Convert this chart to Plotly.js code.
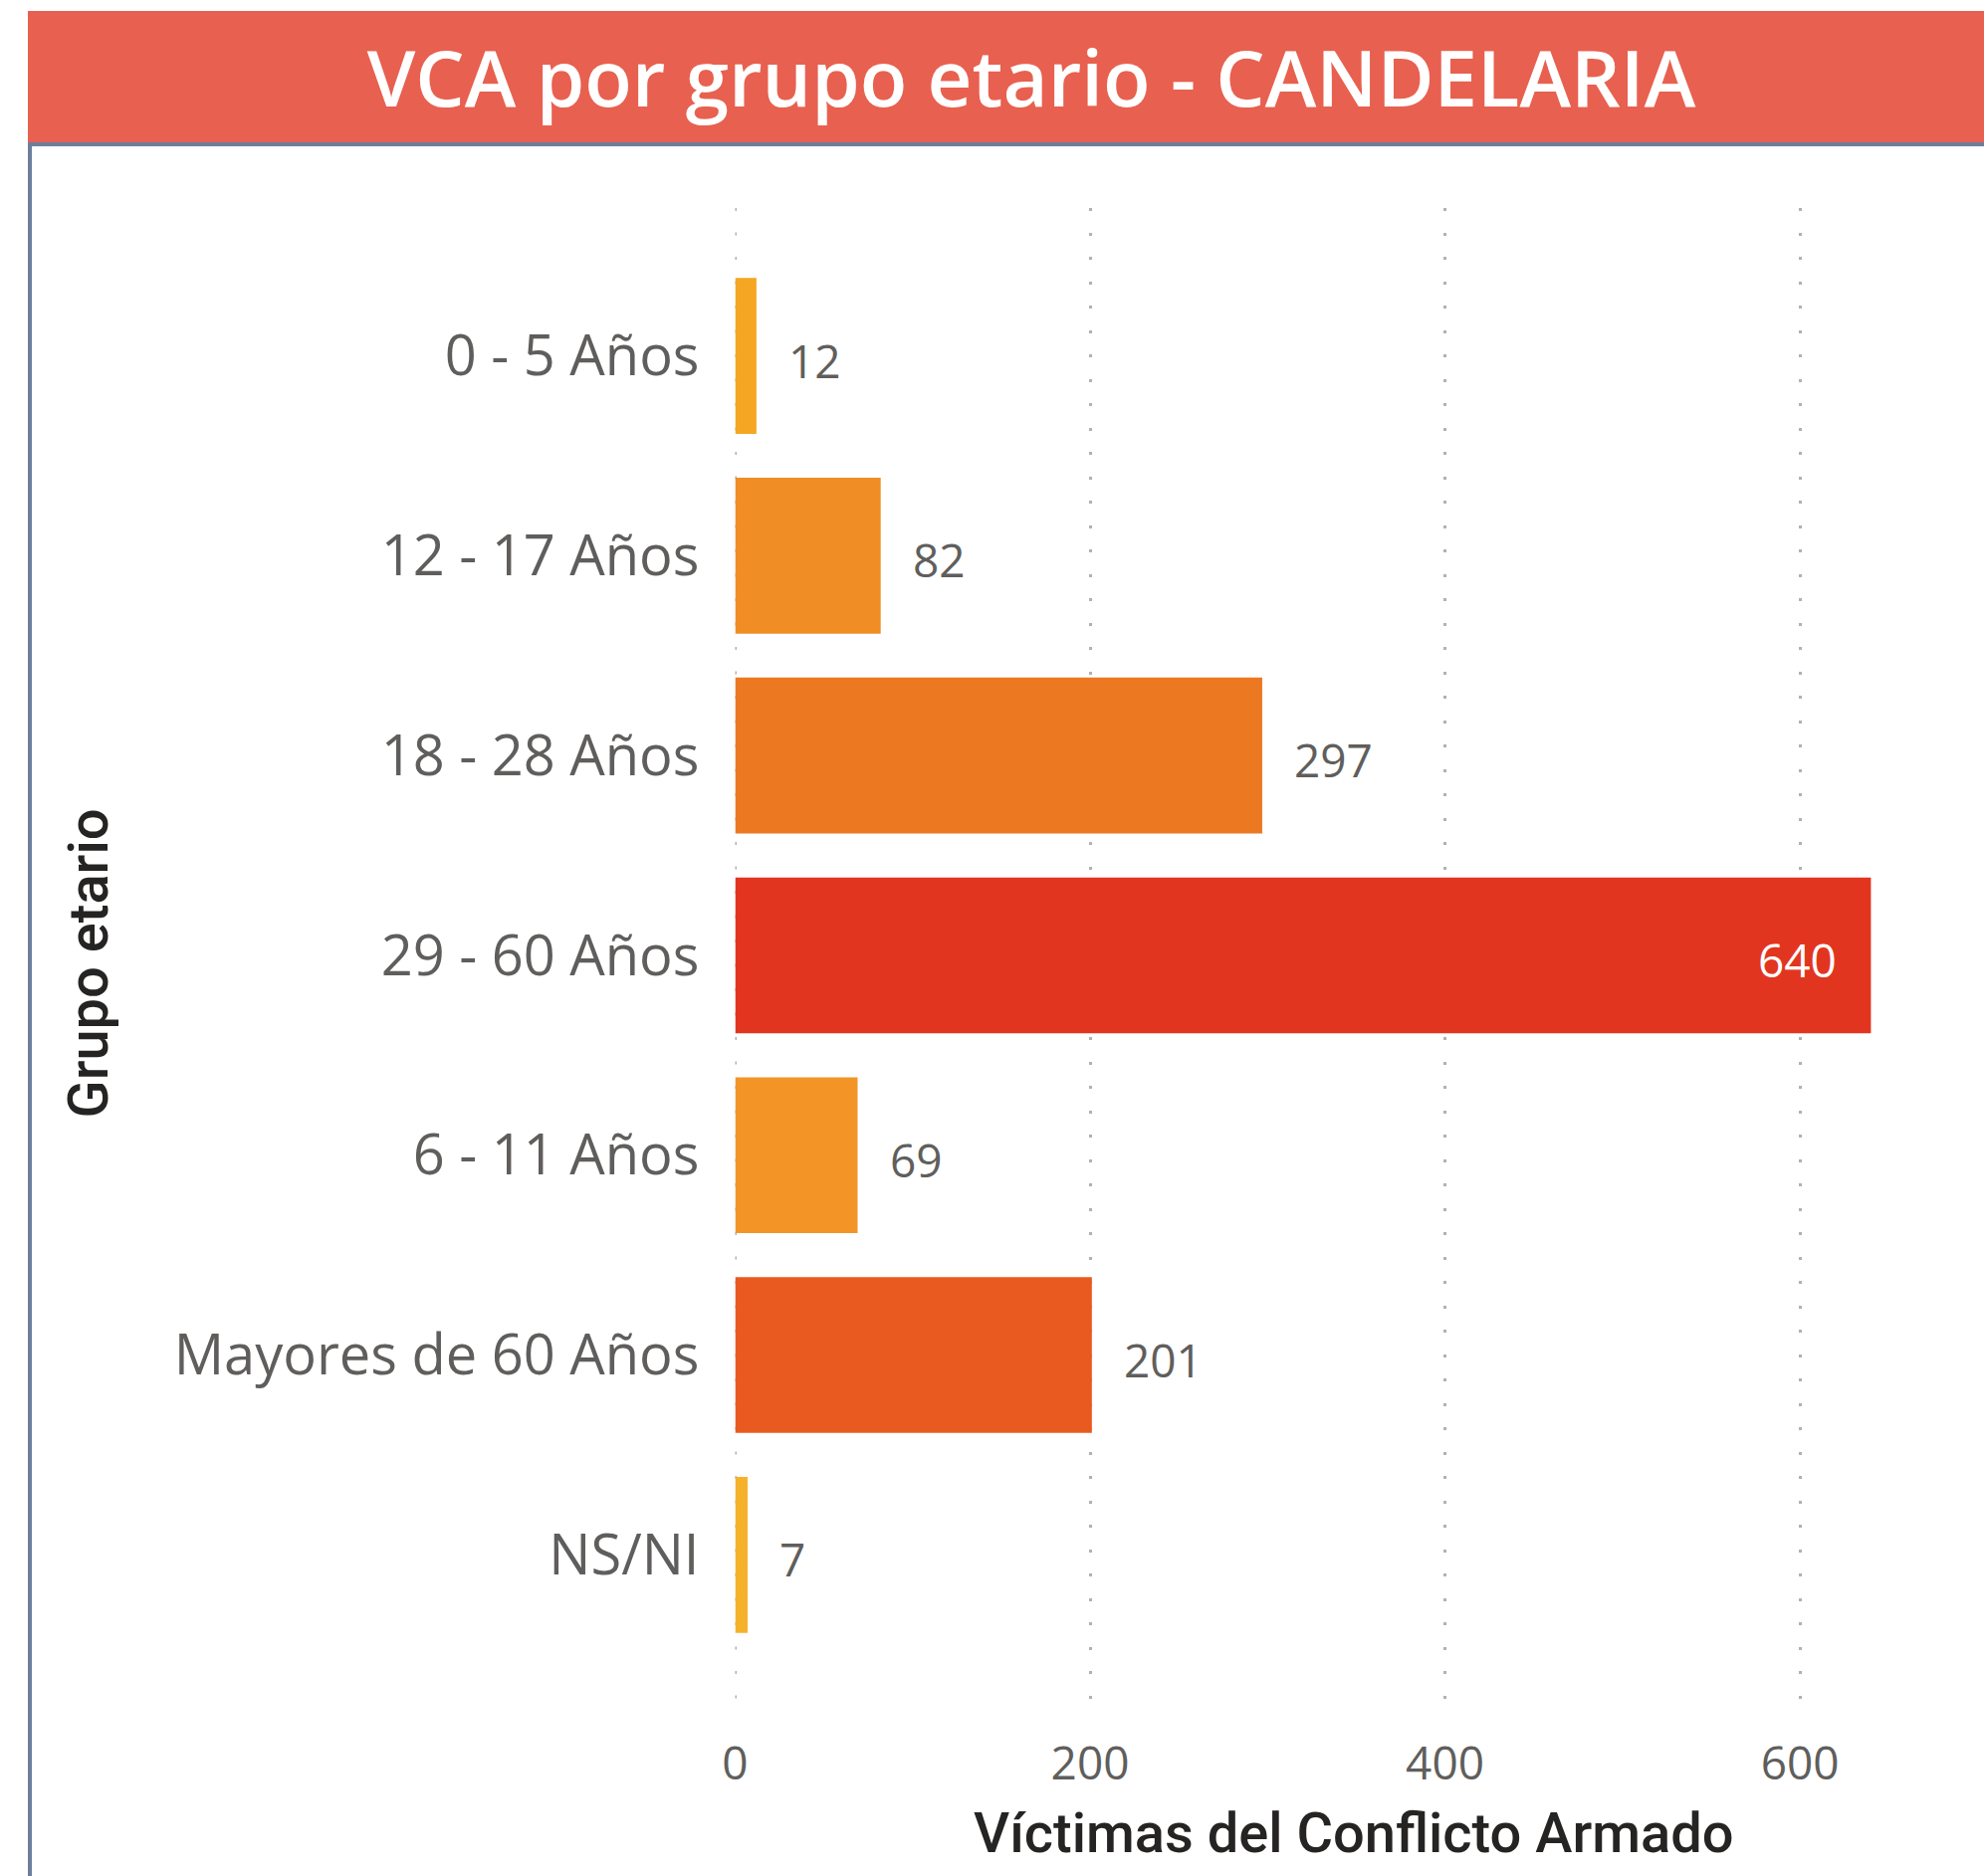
<!DOCTYPE html>
<html>
<head>
<meta charset="utf-8">
<script src="https://cdn.plot.ly/plotly-3.0.1.min.js"></script>
<style>
  html, body { margin: 0; padding: 0; background: #ffffff; }
  #chart { width: 1993px; height: 1885px; }
</style>
</head>
<body>
<div id="chart"></div>
<script>
// ---- data ----
const categories = ["0 - 5 Años", "12 - 17 Años", "18 - 28 Años", "29 - 60 Años", "6 - 11 Años", "Mayores de 60 Años", "NS/NI"];
const victims = [12, 82, 297, 640, 69, 201, 7];
const barColors = ["#F5A623", "#F08D24", "#ED7822", "#E23520", "#F29526", "#E95A20", "#F6B12A"];
const xTicks = [0, 200, 400, 600];
const titleText = "VCA por grupo etario - CANDELARIA";
const xTitle = "Víctimas del Conflicto Armado";
const yTitle = "Grupo etario";

// ---- geometry helpers (pixels -> paper fractions) ----
const W = 1993, H = 1885;
const px = v => v / W;
const py = v => 1 - v / H;

const labelFont = "'Segoe UI', 'Open Sans', 'Noto Sans', sans-serif";
const titleFontFam = "'Segoe UI Semibold', 'Open Sans', 'Noto Sans', sans-serif";
const axisTitleFont = "'DIN', Roboto, 'Noto Sans', sans-serif";
const gridColor = "#B3B1AF";
const gridDash = "3px,21.5px";

const trace = {
  type: "bar",
  orientation: "h",
  y: categories,
  x: victims,
  width: 0.78,
  marker: { color: barColors, line: { width: 0 } },
  hoverinfo: "skip"
};

// data labels as annotations anchored on the data values
const annotations = victims.map((v, i) => {
  const inside = v > 500;
  return {
    x: v, y: categories[i], xref: "x", yref: "y",
    text: String(v),
    showarrow: false,
    xanchor: inside ? "right" : "left",
    yanchor: "middle",
    xshift: inside ? -32 : 30,
    yshift: -4,
    font: { family: labelFont, size: 46, color: inside ? "#ffffff" : "#605E5C" }
  };
});

const layout = {
  width: W, height: H,
  margin: { l: 0, r: 0, t: 0, b: 0 },
  paper_bgcolor: "#ffffff",
  plot_bgcolor: "rgba(0,0,0,0)",
  showlegend: false,
  title: {
    text: titleText,
    font: { family: titleFontFam, size: 78, color: "#ffffff", weight: 600 },
    xref: "paper", yref: "paper",
    x: px(1036), y: py(80),
    xanchor: "center", yanchor: "middle"
  },
  xaxis: {
    domain: [px(738.5), px(1981)],
    range: [0, 697],
    tickvals: xTicks,
    ticktext: xTicks.map(String),
    showgrid: true,
    gridcolor: gridColor,
    gridwidth: 3,
    griddash: gridDash,
    zeroline: false,
    showline: false,
    ticks: "",
    ticklabelstandoff: 14,
    tickfont: { family: labelFont, size: 46, color: "#605E5C" },
    title: {
      text: xTitle,
      font: { family: axisTitleFont, size: 56, color: "#252423", weight: 500 },
      standoff: 21
    },
    automargin: false,
    fixedrange: true
  },
  yaxis: {
    domain: [py(1727), py(209)],
    type: "category",
    categoryorder: "array",
    categoryarray: categories,
    range: [6.82, -0.74],
    showgrid: false,
    zeroline: false,
    showline: false,
    ticks: "",
    ticklabelstandoff: 35,
    tickfont: { family: labelFont, size: 56, color: "#605E5C" },
    title: {
      text: yTitle,
      font: { family: axisTitleFont, size: 56, color: "#252423", weight: 500 },
      standoff: 48
    },
    automargin: false,
    fixedrange: true
  },
  shapes: [
    // header bar
    { type: "rect", xref: "paper", yref: "paper", x0: px(28), x1: px(1993), y0: py(143), y1: py(11),
      fillcolor: "#E8604F", line: { width: 0 }, layer: "below" },
    // header underline
    { type: "rect", xref: "paper", yref: "paper", x0: px(28), x1: px(1993), y0: py(147), y1: py(143),
      fillcolor: "#6B7F9E", line: { width: 0 }, layer: "below" },
    // left border
    { type: "rect", xref: "paper", yref: "paper", x0: px(28), x1: px(32), y0: py(1885), y1: py(143),
      fillcolor: "#6B7F9E", line: { width: 0 }, layer: "below" },
    // gridline at x = 0 (Plotly drops the grid at the range edge)
    { type: "line", xref: "x", yref: "paper", x0: xTicks[0], x1: xTicks[0], y0: py(209), y1: py(1727),
      line: { color: gridColor, width: 3, dash: gridDash }, layer: "below" }
  ],
  annotations: annotations
};

Plotly.newPlot("chart", [trace], layout, { staticPlot: true, displayModeBar: false });
</script>
</body>
</html>
